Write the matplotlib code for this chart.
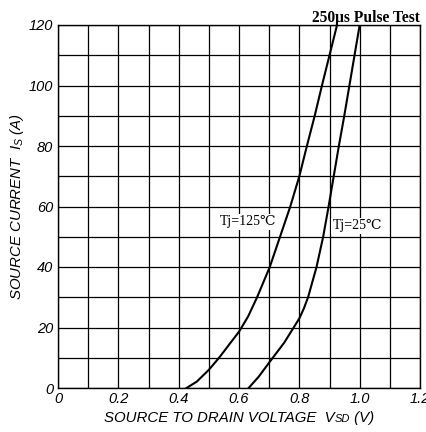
import matplotlib
matplotlib.use("Agg")
import matplotlib.pyplot as plt
from matplotlib.offsetbox import TextArea, HPacker, AnchoredOffsetbox

# Data
v_125 = [0.426, 0.46, 0.50, 0.534, 0.57, 0.60, 0.63, 0.66, 0.702, 0.736, 0.770, 0.800, 0.825, 0.851, 0.875, 0.900, 0.925]
i_125 = [0, 2.1, 6, 10, 14.7, 18.6, 23.6, 30, 40, 50, 60, 70, 80, 90, 100, 110, 120]
v_25 = [0.632, 0.665, 0.70, 0.75, 0.80, 0.815, 0.829, 0.857, 0.879, 0.897, 0.914, 0.931, 0.949, 0.966, 0.983, 1.0]
i_25 = [0, 3.7, 8.4, 15, 23, 26.3, 30, 40, 50, 60, 70, 80, 90, 100, 110, 120]
x_ticks = [0, 0.2, 0.4, 0.6, 0.8, 1.0, 1.2]
x_ticklabels = ["0", "0.2", "0.4", "0.6", "0.8", "1.0", "1.2"]
y_ticks = [0, 20, 40, 60, 80, 100, 120]
y_ticklabels = ["0", "20", "40", "60", "80", "100", "120"]
x_minor = [0.1, 0.3, 0.5, 0.7, 0.9, 1.1]
y_minor = [10, 30, 50, 70, 90, 110]
label_125 = "Tj=125\u2103"
label_25 = "Tj=25\u2103"
title_text = "250\u03bcs Pulse Test"

plt.rcParams['mathtext.fontset'] = 'custom'
plt.rcParams['mathtext.it'] = 'Liberation Sans:italic'
plt.rcParams['mathtext.rm'] = 'Liberation Sans:italic'

W, H = 427, 432
fig = plt.figure(figsize=(W / 100, H / 100), dpi=100)
ax = fig.add_axes([58 / W, 1 - 388 / H, 362 / W, 363 / H])

ax.set_xlim(0, 1.2)
ax.set_ylim(0, 120)
ax.set_xticks(x_ticks)
ax.set_xticklabels(x_ticklabels)
ax.set_yticks(y_ticks)
ax.set_yticklabels(y_ticklabels)
ax.set_xticks(x_minor, minor=True)
ax.set_yticks(y_minor, minor=True)
ax.tick_params(which='both', length=0)
ax.tick_params(axis='x', pad=3)
ax.tick_params(axis='y', pad=3.5)
for lab in ax.get_xticklabels() + ax.get_yticklabels():
    lab.set_fontfamily('Liberation Sans')
    lab.set_fontstyle('italic')
    lab.set_fontsize(10.5)
ax.grid(True, which='both', color='black', linewidth=0.9)
ax.set_axisbelow(True)
for s in ax.spines.values():
    s.set_linewidth(1.0)

ax.plot(v_125, i_125, color='black', linewidth=1.5, clip_on=True)
ax.plot(v_25, i_25, color='black', linewidth=1.5, clip_on=True)

serif = ['Liberation Serif', 'DejaVu Serif']
bbox = dict(facecolor='white', edgecolor='none', pad=1)
ax.text(0.63, 55, label_125, family=serif, fontsize=10, ha='center', va='center', bbox=bbox)
ax.text(0.91, 53.6, label_25, family=serif, fontsize=10, ha='left', va='center', bbox=bbox)

ax.annotate(title_text, xy=(1, 1), xycoords='axes fraction', xytext=(0, 2.5),
            textcoords='offset points', ha='right', va='baseline',
            family=serif, fontweight='bold', fontsize=11.2)

# y label
ax.set_ylabel("SOURCE CURRENT  $I_S$ (A)", family='Liberation Sans', style='italic', fontsize=10.8)
ax.yaxis.set_label_coords(-(58 - 26) / 362, 0.5)

# x label built from pieces (small "SD")
tp = dict(family='Liberation Sans', style='italic', size=10.8)
box = HPacker(children=[TextArea("SOURCE TO DRAIN VOLTAGE  V", textprops=tp),
                        TextArea("SD", textprops=dict(tp, size=8)),
                        TextArea(" (V)", textprops=tp)],
              align="baseline", pad=0, sep=0)
anch = AnchoredOffsetbox(loc='center', child=box, pad=0, frameon=False,
                         bbox_to_anchor=(239 / W, 1 - 418 / H),
                         bbox_transform=fig.transFigure, borderpad=0)
fig.add_artist(anch)

fig.savefig("out.png", dpi=100)
